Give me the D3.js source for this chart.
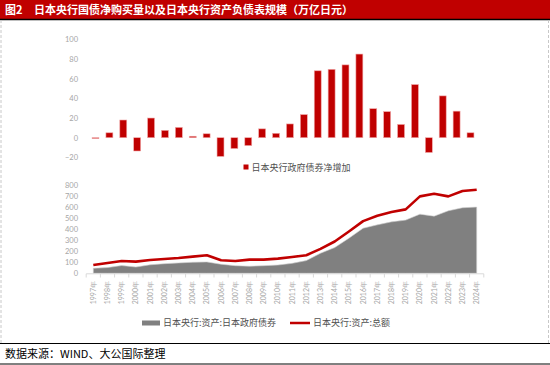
<!DOCTYPE html>
<html>
<head>
<meta charset="utf-8">
<script src="https://cdn.jsdelivr.net/npm/d3@7"></script>
<style>
  body { margin: 0; background: #fff; }
  svg { display: block; }
</style>
</head>
<body>
<div id="chart"></div>
<script>
// Data
const years = d3.range(1997, 2025).map(String);
// net increase of JGB holdings (万亿日元)
const netPurchase = [-0.5, 5, 18, -13.5, 20, 7.5, 10.5, 1.5, 4, -19, -11, -8, 9, 4.5, 14,
  23.5, 68, 69.5, 74, 85, 29.5, 26.5, 13.5, 54, -15, 42.5, 27, 5];
// BoJ assets: JGB holdings
const jgbHoldings = [45, 52, 70, 57, 77, 87, 94, 100, 103, 82, 69, 64, 69, 75, 90,
  115, 182, 233, 318, 409, 439, 466, 482, 536, 518, 566, 594, 600];
// BoJ total assets
const totalAssets = [75, 94, 112, 106, 121, 130, 139, 151, 164, 118, 112, 124, 124, 133, 148,
  164, 221, 288, 379, 473, 521, 555, 579, 697, 721, 697, 745, 757];
const topTicks = [-20, 0, 20, 40, 60, 80, 100];
const bottomTicks = [0, 100, 200, 300, 400, 500, 600, 700, 800];

const W = 550, H = 365;
const red = '#c00000';
const cjk = '"Noto Sans CJK SC", "Noto Sans", sans-serif';
const num = 'Lato, "Open Sans", sans-serif';

const svg = d3.select('#chart').append('svg')
  .attr('width', W).attr('height', H);

// frame
svg.append('rect').attr('x', 0).attr('y', 0).attr('width', W).attr('height', 19).attr('fill', red);
svg.append('line').attr('x1', 0).attr('x2', W).attr('y1', 19.5).attr('y2', 19.5)
  .attr('stroke', '#000').attr('stroke-width', 1.5);
svg.append('text').attr('x', 5).attr('y', 14)
  .attr('fill', '#fff').attr('font-family', cjk).attr('font-weight', 'bold').attr('font-size', 11)
  .text('图2');
svg.append('text').attr('x', 34).attr('y', 14)
  .attr('fill', '#fff').attr('font-family', cjk).attr('font-weight', 'bold').attr('font-size', 11)
  .text('日本央行国债净购买量以及日本央行资产负债表规模（万亿日元）');

[1, 548.5].forEach(x => {
  svg.append('line').attr('x1', x).attr('x2', x).attr('y1', 20).attr('y2', 343)
    .attr('stroke', '#c8c8c8').attr('stroke-dasharray', '3,2');
});
svg.append('line').attr('x1', 0).attr('x2', W).attr('y1', 343.5).attr('y2', 343.5)
  .attr('stroke', '#000').attr('stroke-width', 1);
svg.append('line').attr('x1', 0).attr('x2', W).attr('y1', 364).attr('y2', 364)
  .attr('stroke', '#000').attr('stroke-width', 1);
svg.append('text').attr('x', 5).attr('y', 358)
  .attr('fill', '#000').attr('font-family', cjk).attr('font-size', 11)
  .text('数据来源：WIND、大公国际整理');

// ---------- top chart: bars ----------
const xBand = d3.scaleBand().domain(years).range([85.1, 480.9]).padding(0.5);
const yTop = d3.scaleLinear().domain([-20, 100]).range([157.4, 39.3]);

const topAxis = svg.append('g').attr('transform', 'translate(78,0)')
  .call(d3.axisLeft(yTop).tickValues(topTicks).tickSize(0).tickPadding(0));
topAxis.select('.domain').remove();
topAxis.selectAll('text').attr('fill', '#a6a6a6').attr('font-family', num).attr('font-size', 7.5);

svg.append('g').selectAll('rect')
  .data(years.map((y, i) => ({ year: y, v: netPurchase[i] })))
  .join('rect')
  .attr('x', d => xBand(d.year))
  .attr('width', xBand.bandwidth())
  .attr('y', d => yTop(Math.max(0, d.v)))
  .attr('height', d => Math.max(0.8, Math.abs(yTop(d.v) - yTop(0))))
  .attr('fill', red)
  .attr('stroke', '#f0a8a8')
  .attr('stroke-width', 0.6);

// top legend
svg.append('rect').attr('x', 243.5).attr('y', 164.5).attr('width', 5).attr('height', 5).attr('fill', red);
svg.append('text').attr('x', 251.5).attr('y', 170.5)
  .attr('fill', '#505050').attr('font-family', cjk).attr('font-size', 9)
  .text('日本央行政府债券净增加');

// ---------- bottom chart: area + line ----------
const xPt = d3.scalePoint().domain(years).range([93.3, 476.7]);
const yBot = d3.scaleLinear().domain([0, 800]).range([273.3, 185]);

const botAxis = svg.append('g').attr('transform', 'translate(78,0)')
  .call(d3.axisLeft(yBot).tickValues(bottomTicks).tickSize(0).tickPadding(0));
botAxis.select('.domain').remove();
botAxis.selectAll('text').attr('fill', '#a6a6a6').attr('font-family', num).attr('font-size', 7.5);

const pts = years.map((y, i) => ({ year: y, a: jgbHoldings[i], t: totalAssets[i] }));

svg.append('path').datum(pts)
  .attr('d', d3.area().x(d => xPt(d.year)).y0(yBot(0)).y1(d => yBot(d.a)))
  .attr('fill', '#808080')
  .attr('stroke', '#d0d0d0').attr('stroke-width', 0.6);

svg.append('path').datum(pts)
  .attr('d', d3.line().x(d => xPt(d.year)).y(d => yBot(d.t)))
  .attr('fill', 'none')
  .attr('stroke', '#fff').attr('stroke-width', 4.5).attr('stroke-linejoin', 'round');
svg.append('path').datum(pts)
  .attr('d', d3.line().x(d => xPt(d.year)).y(d => yBot(d.t)))
  .attr('fill', 'none')
  .attr('stroke', red).attr('stroke-width', 2.6).attr('stroke-linejoin', 'round');

// x axis with ticks between categories
const step = xPt.step();
const xAxisG = svg.append('g');
xAxisG.append('line')
  .attr('x1', xPt(years[0]) - step / 2).attr('x2', xPt(years[years.length - 1]) + step / 2)
  .attr('y1', 273.8).attr('y2', 273.8)
  .attr('stroke', '#d9d9d9');
xAxisG.selectAll('line.tick')
  .data(d3.range(years.length + 1))
  .join('line').attr('class', 'tick')
  .attr('x1', i => xPt(years[0]) - step / 2 + i * step)
  .attr('x2', i => xPt(years[0]) - step / 2 + i * step)
  .attr('y1', 273.8).attr('y2', 277.5)
  .attr('stroke', '#d9d9d9');
xAxisG.selectAll('text')
  .data(years)
  .join('text')
  .attr('transform', d => `translate(${xPt(d) + 2.5},281) rotate(-90)`)
  .attr('text-anchor', 'end')
  .attr('fill', '#a6a6a6').attr('font-family', num).attr('font-size', 7)
  .text(d => d + '年');

// bottom legend
svg.append('rect').attr('x', 142).attr('y', 320.5).attr('width', 18).attr('height', 5).attr('fill', '#808080');
svg.append('text').attr('x', 163).attr('y', 326)
  .attr('fill', '#505050').attr('font-family', cjk).attr('font-size', 9)
  .text('日本央行:资产:日本政府债券');
svg.append('line').attr('x1', 290).attr('x2', 310).attr('y1', 323).attr('y2', 323)
  .attr('stroke', red).attr('stroke-width', 2.5);
svg.append('text').attr('x', 313).attr('y', 326)
  .attr('fill', '#505050').attr('font-family', cjk).attr('font-size', 9)
  .text('日本央行:资产:总额');
</script>
</body>
</html>
